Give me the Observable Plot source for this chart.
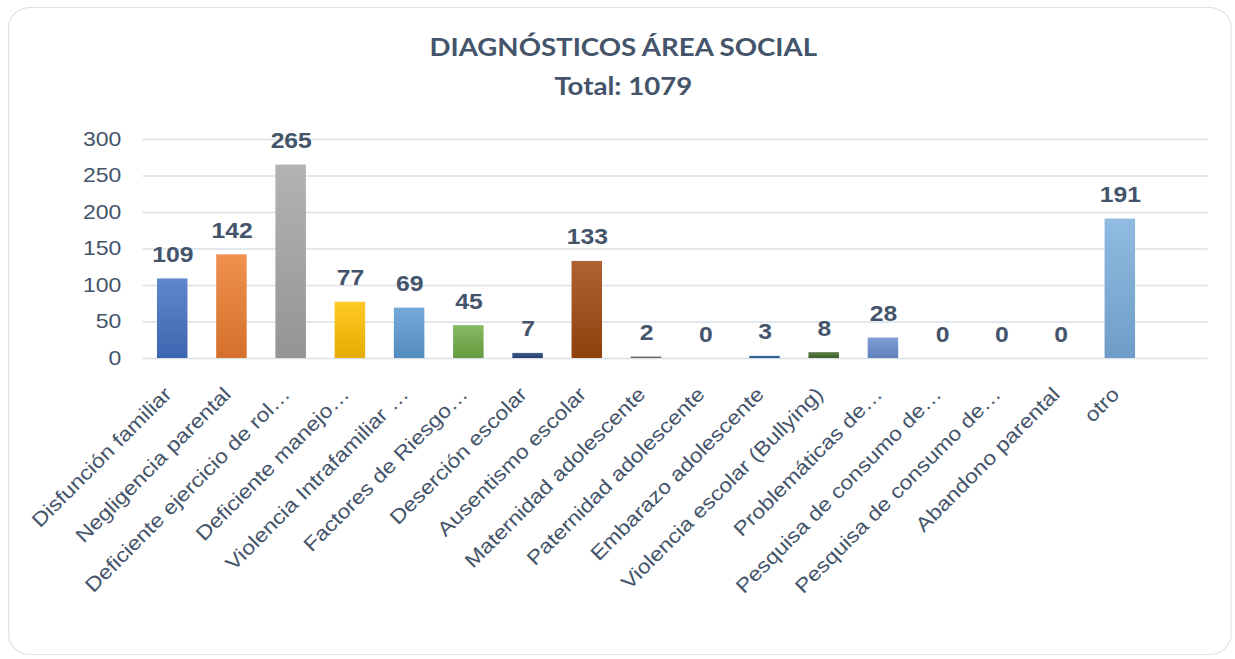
<!DOCTYPE html>
<html>
<head>
<meta charset="utf-8">
<script src="https://cdn.jsdelivr.net/npm/d3@7"></script>
<script src="https://cdn.jsdelivr.net/npm/@observablehq/plot@0.6"></script>
<style>
  html, body { margin: 0; padding: 0; background: #ffffff; width: 1235px; height: 659px; overflow: hidden; }
  #wrap { position: absolute; left: 0; top: 0; width: 1074px; height: 659px; transform: scaleX(1.15); transform-origin: 0 0; }
  #card { position: absolute; left: 7px; top: 7px; width: 1064px; height: 648px; border: 1.5px solid #dde2e8; border-radius: 20px; box-sizing: border-box; }
  .title { position: absolute; left: 0; width: 1084px; text-align: center; font-family: Lato, "Open Sans", sans-serif; font-weight: bold; font-size: 24px; line-height: 24px; color: #44546a; white-space: nowrap; }
  #chart { position: absolute; left: 0; top: 0; }
</style>
</head>
<body>
<div id="wrap">
  <div id="card"></div>
  <div class="title" style="top:35px">DIAGNÓSTICOS ÁREA SOCIAL</div>
  <div class="title" style="top:74px">Total: 1079</div>
  <div id="chart"></div>
</div>
<script>
const categories = [
  "Disfunción familiar",
  "Negligencia parental",
  "Deficiente ejercicio de rol…",
  "Deficiente manejo…",
  "Violencia Intrafamiliar …",
  "Factores de Riesgo…",
  "Deserción escolar",
  "Ausentismo escolar",
  "Maternidad adolescente",
  "Paternidad adolescente",
  "Embarazo adolescente",
  "Violencia escolar (Bullying)",
  "Problemáticas de…",
  "Pesquisa de consumo de…",
  "Pesquisa de consumo de…",
  "Abandono parental",
  "otro"
];
const values = [109, 142, 265, 77, 69, 45, 7, 133, 2, 0, 3, 8, 28, 0, 0, 0, 191];
const colors = ["#4472C4", "#ED7D31", "#A5A5A5", "#FFC000", "#5B9BD5", "#70AD47", "#264478", "#9E480E",
                "#636363", "#997300", "#255E91", "#43682B", "#698ED0", "#F1975A", "#B7B7B7", "#FFCD33", "#7CAFDD"];
const yTicks = [0, 50, 100, 150, 200, 250, 300];

const S = 1.15;
const W = Math.round(1235 / S);
const idx = d3.range(categories.length);
const left = 124, step = 51.5, right = 1050;

const chart = Plot.plot({
  width: W,
  height: 640,
  marginTop: 139,
  marginBottom: 282,
  marginLeft: left,
  marginRight: W - right,
  style: { fontFamily: "'Liberation Sans', Arial, sans-serif", color: "#44546a", background: "transparent", overflow: "visible" },
  x: { domain: idx, range: [left, left + categories.length * step], paddingInner: 0.485, paddingOuter: 0.2425, round: false, axis: null },
  y: { domain: [0, 300], axis: null },
  color: { type: "identity" },
  marks: [
    Plot.ruleY(yTicks, { stroke: "#dae0e8", strokeWidth: 1.6 }),
    Plot.barY(idx, { x: i => i, y: i => values[i], fill: i => `url(#grad${i})` }),
    Plot.text(idx, { x: i => i, y: i => values[i], text: i => String(values[i]), dy: -17, lineAnchor: "bottom",
                     fontSize: 21.5, fontWeight: "bold", fill: "#44546a" }),
    Plot.axisY({ ticks: yTicks, tickSize: 0, tickPadding: 19, fontSize: 20, tickFormat: d => String(d) }),
    Plot.axisX({ tickSize: 0, tickRotate: -45, tickPadding: 27, dx: -8.7, fontSize: 20,
                 textAnchor: "end", lineAnchor: "top", tickFormat: i => categories[i] })
  ]
});

const svg = d3.select(chart);
const defs = svg.insert("defs", ":first-child");
colors.forEach((c, i) => {
  const g = defs.append("linearGradient").attr("id", "grad" + i)
    .attr("x1", 0).attr("y1", 0).attr("x2", 0).attr("y2", 1);
  g.append("stop").attr("offset", "0%").attr("stop-color", d3.interpolateRgb(c, "#ffffff")(0.15));
  g.append("stop").attr("offset", "100%").attr("stop-color", d3.color(c).darker(0.3).formatHex());
});

// keep rotated category labels at a true 45° (undo the shear of the page stretch)
svg.selectAll('g[aria-label="x-axis tick label"] text').attr("transform", function () {
  const t = this.getAttribute("transform") || "";
  return t.replace(/rotate\((-?[\d.]+)\)/, (m, a) => `scale(${1 / S},1) rotate(${a}) scale(${S},1)`);
});

document.getElementById("chart").appendChild(chart);
</script>
</body>
</html>
